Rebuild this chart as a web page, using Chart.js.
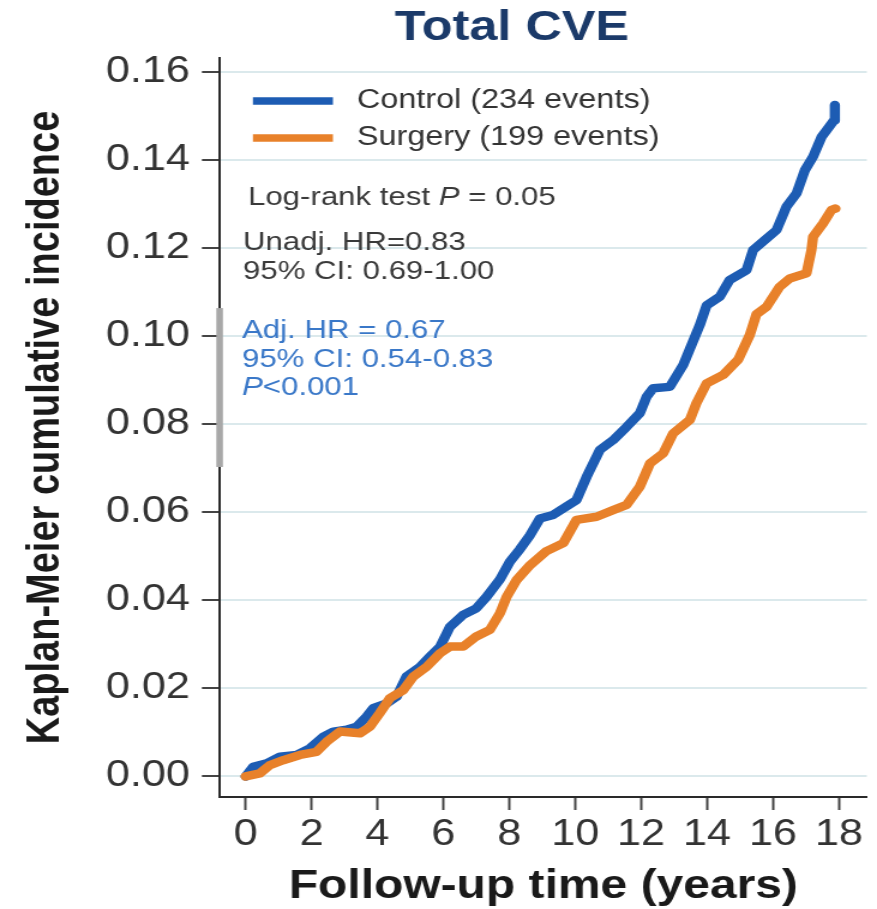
<!DOCTYPE html>
<html>
<head>
<meta charset="utf-8">
<script src="https://cdn.jsdelivr.net/npm/chart.js@4.4.1/dist/chart.umd.min.js"></script>
<style>
  html, body { margin: 0; padding: 0; background: #ffffff; overflow: hidden; }
  #wrap { position: absolute; left: 0; top: 0; width: 731px; height: 909px;
          transform: scaleX(1.19973); transform-origin: 0 0; }
</style>
</head>
<body>
<div id="wrap"><canvas id="c"></canvas></div>
<script>
// ---------------- data ----------------
const chartTitle = 'Total CVE';
const xAxisTitle = 'Follow-up time (years)';
const yAxisTitle = 'Kaplan-Meier cumulative incidence';
const seriesLabels = ['Control (234 events)', 'Surgery (199 events)'];

const xTickValues = [0, 2, 4, 6, 8, 10, 12, 14, 16, 18];
const yTickValues = [0, 0.02, 0.04, 0.06, 0.08, 0.10, 0.12, 0.14, 0.16];

const controlTime = [0, 0.23, 0.64, 1.04, 1.55, 1.95, 2.35, 2.66, 3.06, 3.37, 3.67, 3.87, 4.28, 4.58, 4.88,
  5.29, 5.59, 5.9, 6.2, 6.6, 7.0, 7.31, 7.72, 8.02, 8.32, 8.63, 8.93, 9.33, 10.04, 10.35, 10.75, 11.15,
  11.56, 11.96, 12.17, 12.37, 12.87, 13.28, 13.78, 13.99, 14.39, 14.69, 15.2, 15.4, 15.81, 16.11, 16.41,
  16.72, 16.97, 17.22, 17.48, 17.63, 17.85, 17.88];
const controlIncidence = [0, 0.0022, 0.003, 0.0045, 0.0049, 0.0064, 0.009, 0.0102, 0.0106, 0.0113, 0.0136,
  0.0155, 0.0166, 0.0181, 0.0227, 0.0249, 0.0272, 0.0295, 0.034, 0.0367, 0.0382, 0.0408, 0.0448, 0.0488,
  0.0516, 0.0548, 0.0586, 0.0594, 0.0628, 0.0681, 0.0742, 0.0764, 0.0794, 0.0825, 0.0863, 0.0882, 0.0885,
  0.0935, 0.1025, 0.107, 0.109, 0.1128, 0.115, 0.1196, 0.1222, 0.1241, 0.1294, 0.1325, 0.1377, 0.1408,
  0.1453, 0.1468, 0.149, 0.1525];

const surgeryTime = [0, 0.43, 0.74, 1.14, 1.65, 2.15, 2.46, 2.86, 3.47, 3.77, 4.07, 4.38, 4.78, 5.09, 5.49,
  5.9, 6.2, 6.6, 7.0, 7.41, 7.72, 7.92, 8.22, 8.63, 9.13, 9.64, 10.04, 10.65, 11.15, 11.56, 11.96, 12.27,
  12.67, 12.97, 13.48, 13.68, 13.99, 14.49, 14.95, 15.3, 15.5, 15.81, 16.2, 16.51, 17.02, 17.17, 17.22,
  17.52, 17.78, 17.9];
const surgeryIncidence = [0, 0.0007, 0.0026, 0.0037, 0.0049, 0.0056, 0.0079, 0.0102, 0.0098, 0.0113, 0.0144,
  0.0178, 0.0196, 0.0227, 0.0249, 0.028, 0.0295, 0.0295, 0.0318, 0.0333, 0.0371, 0.0408, 0.0446, 0.048,
  0.0512, 0.053, 0.0583, 0.059, 0.0605, 0.0617, 0.0658, 0.0711, 0.0734, 0.0779, 0.081, 0.0848, 0.0893,
  0.0912, 0.0947, 0.1003, 0.105, 0.1067, 0.1112, 0.1131, 0.1143, 0.1196, 0.1226, 0.1256, 0.1287, 0.129];

const statsGray = [
  [{t: 'Log-rank test '}, {t: 'P', i: true}, {t: ' = 0.05'}],
  [{t: 'Unadj. HR=0.83'}],
  [{t: '95% CI: 0.69-1.00'}]
];
const statsBlue = [
  [{t: 'Adj. HR = 0.67'}],
  [{t: '95% CI: 0.54-0.83'}],
  [{t: 'P', i: true}, {t: '<0.001'}]
];

// ---------------- styles ----------------
const FONT = '"Liberation Sans", Arial, Helvetica, sans-serif';
const BLUE = '#1d5cb3';
const ORANGE = '#e8812a';

function drawRuns(ctx, runs, x, y, size, color) {
  ctx.fillStyle = color;
  ctx.textAlign = 'left';
  ctx.textBaseline = 'middle';
  let cx = x;
  for (const r of runs) {
    ctx.font = (r.i ? 'italic ' : '') + size + 'px ' + FONT;
    ctx.fillText(r.t, cx, y);
    cx += ctx.measureText(r.t).width;
  }
}

const overlayPlugin = {
  id: 'overlay',
  afterDraw(chart) {
    const ctx = chart.ctx;
    const a = chart.chartArea;
    const ys = chart.scales.y;
    ctx.save();
    // title
    ctx.font = 'bold 42px ' + FONT;
    ctx.fillStyle = '#1b3a69';
    ctx.textAlign = 'center';
    ctx.textBaseline = 'middle';
    ctx.fillText(chartTitle, 426.7, 28);

    // legend
    const lx0 = a.left + 27.5, lx1 = a.left + 94.2, tx = a.left + 114.2;
    const legendRows = [[seriesLabels[0], BLUE, a.top + 43], [seriesLabels[1], ORANGE, a.top + 80]];
    for (const [label, col, yy] of legendRows) {
      ctx.strokeStyle = col;
      ctx.lineWidth = 7.5;
      ctx.lineCap = 'butt';
      ctx.beginPath(); ctx.moveTo(lx0, yy); ctx.lineTo(lx1, yy); ctx.stroke();
      drawRuns(ctx, [{t: label}], tx, yy, 27, '#333333');
    }

    // stats text
    const gy = [a.top + 140, a.top + 185, a.top + 214];
    const gx = [a.left + 23.4, a.left + 19.2, a.left + 19.2];
    statsGray.forEach((runs, k) => drawRuns(ctx, runs, gx[k], gy[k], 26, '#3a3a3a'));
    const by = [a.top + 273, a.top + 302, a.top + 330];
    statsBlue.forEach((runs, k) => drawRuns(ctx, runs, a.left + 18.4, by[k], 26, '#3a78c8'));

    // grey segment over the y axis line
    const yTop = ys.getPixelForValue(0.1064), yBot = ys.getPixelForValue(0.0703);
    ctx.fillStyle = '#a8a8a8';
    ctx.fillRect(a.left - 3, yTop, 5.5, yBot - yTop);
    ctx.restore();
  }
};

const ctx = document.getElementById('c').getContext('2d');
new Chart(ctx, {
  type: 'line',
  data: {
    datasets: [
      {
        label: seriesLabels[0],
        data: controlTime.map((t, i) => ({x: t, y: controlIncidence[i]})),
        borderColor: BLUE, backgroundColor: BLUE, borderWidth: 8.5,
        pointRadius: 0, tension: 0, borderJoinStyle: 'round', borderCapStyle: 'round',
        order: 1
      },
      {
        label: seriesLabels[1],
        data: surgeryTime.map((t, i) => ({x: t, y: surgeryIncidence[i]})),
        borderColor: ORANGE, backgroundColor: ORANGE, borderWidth: 8.5,
        pointRadius: 0, tension: 0, borderJoinStyle: 'round', borderCapStyle: 'round',
        order: 0
      }
    ]
  },
  options: {
    responsive: true,
    maintainAspectRatio: false,
    animation: false,
    devicePixelRatio: 1,
    layout: { padding: { top: 58, right: 8.5, left: 0, bottom: 0 } },
    plugins: { legend: { display: false }, title: { display: false }, tooltip: { enabled: false } },
    scales: {
      x: {
        type: 'linear',
        min: -0.78, max: 18.85,
        afterFit: s => { s.height = 112; },
        afterBuildTicks: s => { s.ticks = xTickValues.map(v => ({value: v})); },
        ticks: { color: '#333333', font: { family: FONT, size: 36 }, padding: 3, maxRotation: 0,
                 callback: v => String(v) },
        grid: { drawOnChartArea: false, drawTicks: true, tickLength: 13, tickColor: '#444444', tickWidth: 2 },
        border: { display: true, color: '#2a2a2a', width: 2 },
        title: { display: true, text: xAxisTitle, color: '#1a1a1a',
                 font: { family: FONT, size: 40, weight: 'bold', lineHeight: 1 }, padding: { top: 0, bottom: 2 } }
      },
      y: {
        type: 'linear',
        min: -0.00466, max: 0.1632,
        afterFit: s => { s.width = 183.3; },
        afterBuildTicks: s => { s.ticks = yTickValues.map(v => ({value: v})); },
        ticks: { color: '#333333', font: { family: FONT, size: 36 }, padding: 10,
                 callback: v => Number(v).toFixed(2) },
        grid: { color: '#dbe9ec', lineWidth: 2, drawTicks: true, tickLength: 15, tickColor: '#444444', tickWidth: 2 },
        border: { display: true, color: '#2a2a2a', width: 2 },
        title: { display: true, text: yAxisTitle, color: '#1a1a1a',
                 font: { family: FONT, size: 38, weight: 'bold', lineHeight: 1.2 }, padding: { top: 16, bottom: 0 } }
      }
    }
  },
  plugins: [overlayPlugin]
});
</script>
</body>
</html>
